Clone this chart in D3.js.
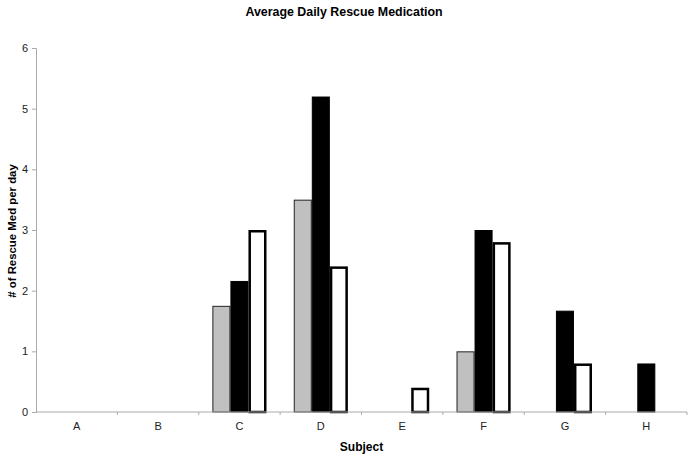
<!DOCTYPE html>
<html><head><meta charset="utf-8">
<script src="https://cdn.jsdelivr.net/npm/d3@7"></script>
<style>body{margin:0;background:#fff}svg{font-family:"Liberation Sans",Arial,sans-serif}</style>
</head><body><svg id="c" width="693" height="459"></svg>
<script>
const categories = ["A","B","C","D","E","F","G","H"];
const series1 = [null,null,1.75,3.5,null,1.0,null,null];
const series2 = [null,null,2.16,5.2,null,3.0,1.67,0.8];
const series3 = [null,null,3.0,2.4,0.4,2.8,0.8,null];
const yTicks = [0,1,2,3,4,5,6];

const seriesList = [
  {name:"Series 1", values:series1, fill:"#c0c0c0", stroke:"#222", sw:1},
  {name:"Series 2", values:series2, fill:"#000", stroke:"#000", sw:1},
  {name:"Series 3", values:series3, fill:"#fff", stroke:"#000", sw:2.5}
];

const svg = d3.select("#c");
const m = {l:36, r:6, t:48, b:47};
const W = 693, H = 459;
const x = d3.scaleBand().domain(categories).range([m.l, W-m.r]).paddingInner(0).paddingOuter(0);
const y = d3.scaleLinear().domain([0,6]).range([H-m.b, m.t]);
const groupW = x.bandwidth()*0.665;
const xs = d3.scaleBand().domain(d3.range(3)).range([0, groupW]);

svg.append("text").attr("x", 344).attr("y", 16).attr("text-anchor","middle")
  .attr("font-size",12.4).attr("font-weight","bold").text("Average Daily Rescue Medication");

// bars
seriesList.forEach((s,si)=>{
  svg.append("g").selectAll("rect").data(categories.map((c,i)=>({c,v:s.values[i]})).filter(d=>d.v!=null))
    .join("rect")
    .attr("x", d=> x(d.c) + (x.bandwidth()-groupW)/2 + xs(si) + s.sw/2)
    .attr("width", xs.bandwidth() - s.sw)
    .attr("y", d=> y(d.v) + s.sw/2)
    .attr("height", d=> y(0)-y(d.v) - s.sw/2)
    .attr("fill", s.fill).attr("stroke", s.stroke).attr("stroke-width", s.sw);
});

// axes
const yAxis = svg.append("g").attr("transform",`translate(${m.l},0)`)
  .call(d3.axisLeft(y).tickValues(yTicks).tickSize(4).tickPadding(4).tickFormat(d3.format("d")));
yAxis.selectAll("path,line").attr("stroke","#aaa");
yAxis.selectAll("text").attr("font-size",11).attr("fill","#222").attr("font-family","Liberation Sans, Arial, sans-serif");

const xAxis = svg.append("g").attr("transform",`translate(0,${y(0)})`)
  .call(d3.axisBottom(x).tickSize(0).tickPadding(10));
xAxis.select("path").attr("stroke","#aaa").attr("d", `M${m.l},0H${W-m.r}`);
xAxis.selectAll("text").attr("font-size",11).attr("fill","#222").attr("font-family","Liberation Sans, Arial, sans-serif");
svg.append("g").selectAll("line").data(categories.slice(1).concat(["end"]))
  .join("line")
  .attr("x1", d=> d==="end" ? W-m.r : x(d)).attr("x2", d=> d==="end" ? W-m.r : x(d))
  .attr("y1", y(0)).attr("y2", y(0)+3).attr("stroke","#aaa");

svg.append("text").attr("x", (m.l+W-m.r)/2).attr("y", 451).attr("text-anchor","middle")
  .attr("font-size",12).attr("font-weight","bold").text("Subject");
svg.append("text").attr("transform",`translate(16,231) rotate(-90)`).attr("text-anchor","middle")
  .attr("font-size",11.4).attr("font-weight","bold").text("# of Rescue Med per day");
</script></body></html>
